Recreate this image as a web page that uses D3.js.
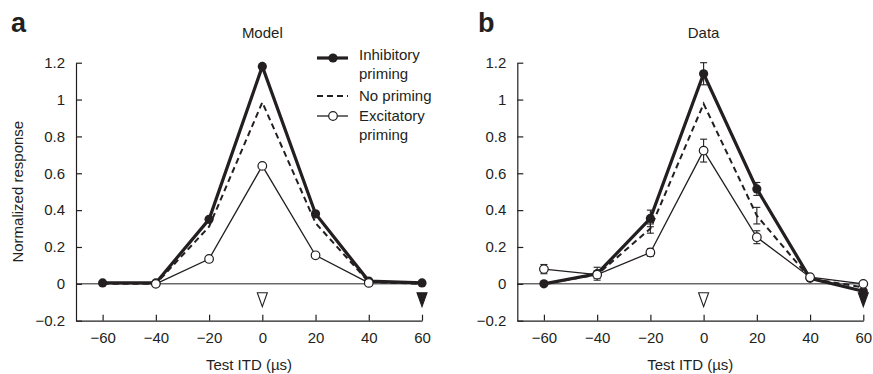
<!DOCTYPE html>
<html>
<head>
<meta charset="utf-8">
<script src="https://cdn.jsdelivr.net/npm/d3@7"></script>
<style>
  body { margin: 0; background: #fff; }
  text { font-family: "Liberation Sans", Arial, sans-serif; fill: #231f20; }
</style>
</head>
<body>
<div id="chart"></div>
<script>
// ITD values (us)
var itd = [-60, -40, -20, 0, 20, 40, 60];
var xTicks = [-60, -40, -20, 0, 20, 40, 60];
var xTickLabels = ["\u221260", "\u221240", "\u221220", "0", "20", "40", "60"];
var yTicks = [-0.2, 0, 0.2, 0.4, 0.6, 0.8, 1, 1.2];
var yTickLabels = ["\u22120.2", "0", "0.2", "0.4", "0.6", "0.8", "1", "1.2"];

// panel a - model
var modelInhib = [0.005, 0.005, 0.35, 1.18, 0.38, 0.015, 0.005];
var modelNone  = [0, 0, 0.31, 0.985, 0.33, 0.01, 0];
var modelExcit = [null, 0, 0.135, 0.64, 0.155, 0.005, null];

// panel b - data (mean and error)
var dataInhib    = [0.0, 0.055, 0.355, 1.14, 0.515, 0.03, -0.04];
var dataInhibErr = [0, 0.035, 0.045, 0.06, 0.035, 0, 0];
var dataNone     = [0.0, 0.05, 0.30, 0.977, 0.37, 0.03, -0.02];
var dataNoneErr  = [0, 0, 0.025, 0, 0.045, 0, 0];
var dataExcit    = [0.08, 0.05, 0.17, 0.723, 0.253, 0.036, 0.0];
var dataExcitErr = [0.025, 0.02, 0.02, 0.062, 0.035, 0, 0];

// priming ITD markers (open = test at 0, filled = prime at 60)
var markerX = [0, 60];
var markerFilled = [false, true];

var legendNames = [["Inhibitory", "priming"], ["No priming"], ["Excitatory", "priming"]];

var W = 873, H = 374;
var svg = d3.select("#chart").append("svg")
  .attr("width", W).attr("height", H);

var ink = "#231f20";

function panel(opts) {
  var g = svg.append("g");
  var x = d3.scaleLinear().domain([-70, 60]).range([opts.left, opts.left + 346]);
  var y = d3.scaleLinear().domain([-0.2, 1.2]).range([320.7, 62.7]);

  // axes
  var xAxis = g.append("g")
    .attr("transform", "translate(0," + y(-0.2) + ")")
    .call(d3.axisBottom(x).tickValues(xTicks)
      .tickFormat(function(d, i) { return xTickLabels[i]; })
      .tickSizeInner(-6).tickSizeOuter(0).tickPadding(12));
  var yAxis = g.append("g")
    .attr("transform", "translate(" + x(-70) + ",0)")
    .call(d3.axisLeft(y).tickValues(yTicks)
      .tickFormat(function(d, i) { return yTickLabels[i]; })
      .tickSizeInner(-6).tickSizeOuter(0).tickPadding(11));
  [xAxis, yAxis].forEach(function(a) {
    a.selectAll("path, line").attr("stroke", ink).attr("stroke-width", 1.2);
    a.selectAll("text").style("font-size", "15px").attr("fill", ink)
      .style("font-family", "'Liberation Sans', Arial, sans-serif");
  });

  // zero line
  g.append("line")
    .attr("x1", x(-70)).attr("x2", x(60))
    .attr("y1", y(0)).attr("y2", y(0))
    .attr("stroke", ink).attr("stroke-width", 1);

  // titles
  g.append("text").attr("x", x(0)).attr("y", 38)
    .attr("text-anchor", "middle").style("font-size", "15px").text(opts.title);
  g.append("text").attr("x", (x(-70) + x(60)) / 2).attr("y", 370)
    .attr("text-anchor", "middle").style("font-size", "15px").text("Test ITD (\u00b5s)");
  g.append("text").attr("x", opts.letterX).attr("y", 32)
    .style("font-size", "27px").style("font-weight", "bold").text(opts.letter);
  if (opts.yLabel) {
    g.append("text")
      .attr("transform", "translate(23," + ((y(-0.2) + y(1.2)) / 2) + ") rotate(-90)")
      .attr("text-anchor", "middle").style("font-size", "15px").text(opts.yLabel);
  }

  var line = d3.line()
    .defined(function(d) { return d[1] != null; })
    .x(function(d) { return x(d[0]); })
    .y(function(d) { return y(d[1]); });
  function pts(vals) { return itd.map(function(v, i) { return [v, vals[i]]; }); }

  // lines
  g.append("path").datum(pts(opts.none)).attr("d", line)
    .attr("fill", "none").attr("stroke", ink).attr("stroke-width", 2)
    .attr("stroke-dasharray", "6,4");
  g.append("path").datum(pts(opts.inhib)).attr("d", line)
    .attr("fill", "none").attr("stroke", ink).attr("stroke-width", 3.2);
  g.append("path").datum(pts(opts.excit)).attr("d", line)
    .attr("fill", "none").attr("stroke", ink).attr("stroke-width", 1.3);

  // error bars
  function errBars(vals, errs) {
    if (!errs) return;
    var d = pts(vals).map(function(p, i) { return [p[0], p[1], errs[i]]; })
      .filter(function(p) { return p[1] != null && p[2] > 0; });
    var eb = g.append("g").selectAll("g").data(d).enter().append("g")
      .attr("stroke", ink).attr("stroke-width", 1.1);
    eb.append("line")
      .attr("x1", function(p) { return x(p[0]); }).attr("x2", function(p) { return x(p[0]); })
      .attr("y1", function(p) { return y(p[1] - p[2]); }).attr("y2", function(p) { return y(p[1] + p[2]); });
    [1, -1].forEach(function(s) {
      eb.append("line")
        .attr("x1", function(p) { return x(p[0]) - 3.5; }).attr("x2", function(p) { return x(p[0]) + 3.5; })
        .attr("y1", function(p) { return y(p[1] + s * p[2]); }).attr("y2", function(p) { return y(p[1] + s * p[2]); });
    });
  }
  errBars(opts.none, opts.noneErr);
  errBars(opts.inhib, opts.inhibErr);
  errBars(opts.excit, opts.excitErr);

  // markers
  g.append("g").selectAll("circle")
    .data(pts(opts.inhib).filter(function(p) { return p[1] != null; }))
    .enter().append("circle")
    .attr("cx", function(p) { return x(p[0]); }).attr("cy", function(p) { return y(p[1]); })
    .attr("r", 4.6).attr("fill", ink);
  g.append("g").selectAll("circle")
    .data(pts(opts.excit).filter(function(p) { return p[1] != null; }))
    .enter().append("circle")
    .attr("cx", function(p) { return x(p[0]); }).attr("cy", function(p) { return y(p[1]); })
    .attr("r", 4.3).attr("fill", "#fff").attr("stroke", ink).attr("stroke-width", 1.2);

  // priming triangles
  var triY = y(-0.2) - 28;
  g.append("g").selectAll("path").data(markerX).enter().append("path")
    .attr("d", function(v) {
      var cx = x(v);
      return "M" + (cx - 5) + "," + triY + "L" + (cx + 5) + "," + triY + "L" + cx + "," + (triY + 14) + "Z";
    })
    .attr("fill", function(v, i) { return markerFilled[i] ? ink : "#fff"; })
    .attr("stroke", ink).attr("stroke-width", 1.1);

  // legend
  if (opts.legend) {
    var lx = 317, lx2 = 348, tx = 359;
    var rows = [58, 96, 116];
    var textBase = [[60, 79], [101], [121, 140]];
    rows.forEach(function(ry, i) {
      var ln = g.append("line").attr("x1", lx).attr("x2", lx2).attr("y1", ry).attr("y2", ry)
        .attr("stroke", ink);
      if (i === 0) ln.attr("stroke-width", 3.2);
      if (i === 1) ln.attr("stroke-width", 2).attr("stroke-dasharray", "6,4");
      if (i === 2) ln.attr("stroke-width", 1.3);
      if (i === 0) g.append("circle").attr("cx", 333).attr("cy", ry).attr("r", 4.6).attr("fill", ink);
      if (i === 2) g.append("circle").attr("cx", 333).attr("cy", ry).attr("r", 4.3)
        .attr("fill", "#fff").attr("stroke", ink).attr("stroke-width", 1.2);
      legendNames[i].forEach(function(t, j) {
        g.append("text").attr("x", tx).attr("y", textBase[i][j])
          .style("font-size", "15px").text(t);
      });
    });
  }
}

panel({ left: 76, title: "Model", letter: "a", letterX: 11, yLabel: "Normalized response",
  inhib: modelInhib, none: modelNone, excit: modelExcit, legend: true });
panel({ left: 517.3, title: "Data", letter: "b", letterX: 478,
  inhib: dataInhib, none: dataNone, excit: dataExcit,
  inhibErr: dataInhibErr, noneErr: dataNoneErr, excitErr: dataExcitErr });
</script>
</body>
</html>
